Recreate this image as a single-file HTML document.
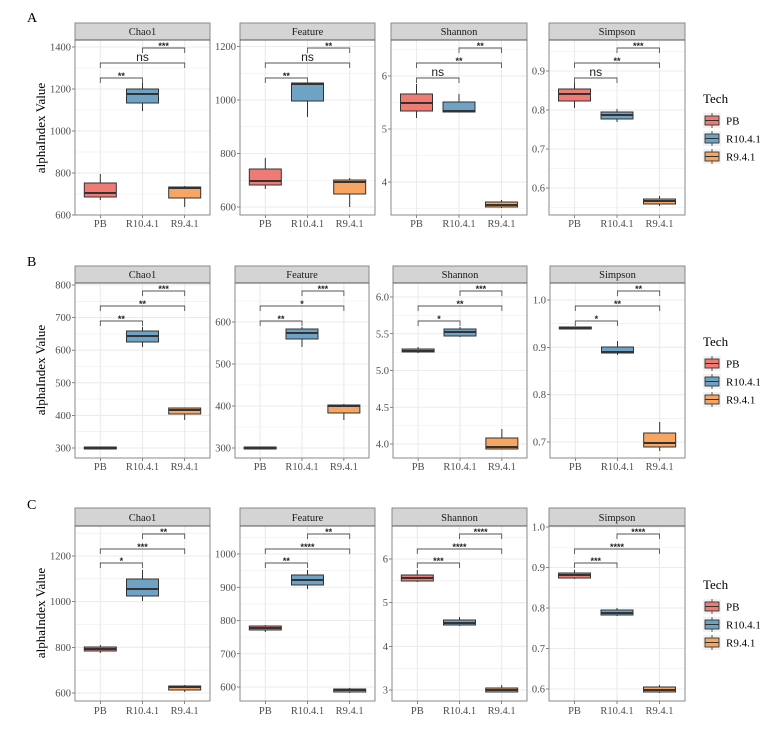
<!DOCTYPE html>
<html><head><meta charset="utf-8"><style>
html,body{margin:0;padding:0;background:#fff}
svg{display:block;font-family:"Liberation Serif",serif}
</style></head><body>
<svg id="s" width="779" height="732" viewBox="0 0 779 732" xmlns="http://www.w3.org/2000/svg"></svg>
<script>
const S=document.getElementById('s');let h='';
const col=['#f07a74','#6fa3c6','#f6a662'];
const cats=['PB','R10.4.1','R9.4.1'];
function lin(v0,y0,v1,y1){return v=>y0+(v-v0)*(y1-y0)/(v1-v0);}
// rows: strip top, strip bottom, plot bottom, xlabel baseline
const rows=[
 {st:23,sb:40,pb:215,xl:227,br:[78,63,48]},
 {st:266,sb:283,pb:458,xl:470,br:[321,306,291]},
 {st:508,sb:526,pb:701,xl:714,br:[563,549,534]}];
const facets=[
 // row A
 [{n:'Chao1',x0:75,x1:210,f:lin(600,215,1400,47),ticks:[600,800,1000,1200,1400],lab:v=>v,
   b:[[200,197,193,183,174],[111,103,94,89,83],[207,198,188,187,186]],s:['**','ns','***']},
  {n:'Feature',x0:240,x1:375,f:lin(600,207,1200,46.5),ticks:[600,800,1000,1200],lab:v=>v,
   b:[[189,185,181,169,158],[117,101,84,83,83],[207,194,182,180,178]],s:['**','ns','**']},
  {n:'Shannon',x0:391,x1:527,f:lin(4,182,6,76),ticks:[4,5,6],lab:v=>v,
   b:[[118,111,103,94,84],[112,112,111,102,94],[208,207,205,202,200]],s:['ns','**','**']},
  {n:'Simpson',x0:549,x1:685,f:lin(0.6,188,0.9,71),ticks:[0.6,0.7,0.8,0.9],lab:v=>v.toFixed(1),
   b:[[108,101,94,89,82],[122,119,115,112,109],[206,204,201,199,196]],s:['ns','**','***']}],
 [{n:'Chao1',x0:75,x1:210,f:lin(300,448,800,285),ticks:[300,400,500,600,700,800],lab:v=>v,
   b:[[449,449,448,447,447],[347,342,336,331,327],[420,414,410,408,408]],s:['**','**','***']},
  {n:'Feature',x0:235,x1:369,f:lin(300,448,600,322),ticks:[300,400,500,600],lab:v=>v,
   b:[[449,449,448,447,447],[347,339,333,329,327],[420,413,406,405,404]],s:['**','*','***']},
  {n:'Shannon',x0:393,x1:527,f:lin(4,444,6,297),ticks:[4,4.5,5,5.5,6],lab:v=>v.toFixed(1),
   b:[[353,352,351,349,347],[337,336,332,329,327],[449,449,447,438,429]],s:['*','**','***']},
  {n:'Simpson',x0:550,x1:685,f:lin(0.7,442,1.0,300),ticks:[0.7,0.8,0.9,1.0],lab:v=>v.toFixed(1),
   b:[[329,329,328,327,327],[355,353,352,347,341],[451,447,443,433,422]],s:['*','**','**']}],
 [{n:'Chao1',x0:75,x1:210,f:lin(600,693,1200,556),ticks:[600,800,1000,1200],lab:v=>v,
   b:[[653,651,649,647,645],[601,596,589,579,570],[692,690,687,686,685]],s:['*','***','**']},
  {n:'Feature',x0:240,x1:375,f:lin(600,687,1000,554),ticks:[600,700,800,900,1000],lab:v=>v,
   b:[[632,630,628,626,625],[589,585,580,575,570],[693,692,690,689,688]],s:['**','****','**']},
  {n:'Shannon',x0:392,x1:527,f:lin(3,690,6,559),ticks:[3,4,5,6],lab:v=>v,
   b:[[582,581,578,575,570],[626,625,623,620,617],[692,692,690,688,685]],s:['***','****','****']},
  {n:'Simpson',x0:549,x1:685,f:lin(0.6,689,1.0,527),ticks:[0.6,0.7,0.8,0.9,1.0],lab:v=>v.toFixed(1),
   b:[[579,578,575,573,570],[616,615,613,610,608],[693,692,690,687,685]],s:['***','****','****']}]];
const gc='#ebebeb';
facets.forEach((row,ri)=>{const R=rows[ri];
 row.forEach(F=>{
  const w=F.x1-F.x0, xs=[0.1875,0.5,0.8125].map(p=>F.x0+p*w), top=R.sb, bot=R.pb;
  // minor grid
  for(let i=0;i<F.ticks.length+1;i++){
    const step=F.ticks[1]-F.ticks[0]; const v=F.ticks[0]+(i-0.5)*step; const y=F.f(v);
    if(y>top&&y<bot) h+=`<line x1="${F.x0}" x2="${F.x1}" y1="${y}" y2="${y}" stroke="${gc}" stroke-width="0.6"/>`;
  }
  F.ticks.forEach(v=>{const y=F.f(v);
    h+=`<line x1="${F.x0}" x2="${F.x1}" y1="${y}" y2="${y}" stroke="${gc}" stroke-width="1.1"/>`;
    h+=`<line x1="${F.x0-3}" x2="${F.x0}" y1="${y}" y2="${y}" stroke="#333" stroke-width="0.6"/>`;
    h+=`<text x="${F.x0-4}" y="${y+3.5}" font-size="10.5" fill="#4d4d4d" text-anchor="end">${F.lab(v)}</text>`;});
  xs.forEach((x,i)=>{h+=`<line x1="${x}" x2="${x}" y1="${top}" y2="${bot}" stroke="${gc}" stroke-width="1.1"/>`;
    h+=`<line x1="${x}" x2="${x}" y1="${bot}" y2="${bot+3}" stroke="#333" stroke-width="0.6"/>`;
    h+=`<text x="${x}" y="${R.xl}" font-size="10.5" fill="#4d4d4d" text-anchor="middle">${cats[i]}</text>`;});
  // boxes
  const bw=32;
  F.b.forEach((b,i)=>{const x=xs[i];
    h+=`<line x1="${x}" x2="${x}" y1="${b[0]}" y2="${b[4]}" stroke="#333" stroke-width="1"/>`;
    const ht=Math.max(b[0+1]-b[3],1.5);
    h+=`<rect x="${x-bw/2}" y="${b[3]}" width="${bw}" height="${ht}" fill="${col[i]}" stroke="#333" stroke-width="1"/>`;
    h+=`<line x1="${x-bw/2}" x2="${x+bw/2}" y1="${b[2]}" y2="${b[2]}" stroke="#333" stroke-width="2"/>`;});
  // brackets
  const pairs=[[0,1],[0,2],[1,2]];
  pairs.forEach((p,k)=>{const y=R.br[k],a=xs[p[0]],c=xs[p[1]];
    h+=`<path d="M${a} ${y+5}V${y}H${c}V${y+5}" fill="none" stroke="#555" stroke-width="0.9"/>`;
    const s=F.s[k];
    if(s==='ns') h+=`<text x="${(a+c)/2}" y="${y-2}" font-family="Liberation Sans,sans-serif" font-size="12" fill="#222" text-anchor="middle">ns</text>`;
    else h+=`<text x="${(a+c)/2}" y="${y+1}" font-family="Liberation Sans,sans-serif" font-size="9" font-weight="bold" fill="#222" text-anchor="middle">${s}</text>`;
  });
  // panel border and strip
  h+=`<rect x="${F.x0}" y="${top}" width="${w}" height="${bot-top}" fill="none" stroke="#8a8a8a" stroke-width="1"/>`;
  h+=`<rect x="${F.x0}" y="${R.st}" width="${w}" height="${R.sb-R.st}" fill="#d4d4d4" stroke="#8a8a8a" stroke-width="1"/>`;
  h+=`<line x1="${F.x0}" x2="${F.x1}" y1="${R.sb}" y2="${R.sb}" stroke="#555" stroke-width="1"/>`;
  h+=`<text x="${F.x0+w/2}" y="${R.sb-5}" font-size="10.5" fill="#1a1a1a" text-anchor="middle">${F.n}</text>`;
 });
});
// left labels & letters
[[128,'A',18],[370,'B',262],[613,'C',505]].forEach(([cy,L,ly])=>{
 h+=`<text transform="translate(45 ${cy}) rotate(-90)" font-size="13" text-anchor="middle" fill="#000">alphaIndex Value</text>`;
 h+=`<text x="27" y="${ly+4}" font-size="14" fill="#000">${L}</text>`;
});
// legends
[[98],[341],[584]].forEach(([ty])=>{
 h+=`<text x="703" y="${ty+5}" font-size="13" fill="#000">Tech</text>`;
 cats.forEach((c,i)=>{const y=ty+15+i*18;
  h+=`<rect x="703" y="${y}" width="18" height="15" fill="#f2f2f2"/>`;
  h+=`<line x1="712" x2="712" y1="${y}" y2="${y+15}" stroke="#333" stroke-width="0.8"/>`;
  h+=`<rect x="705" y="${y+3}" width="14" height="9" fill="${col[i]}" stroke="#333" stroke-width="0.9"/>`;
  h+=`<line x1="705" x2="719" y1="${y+7.5}" y2="${y+7.5}" stroke="#333" stroke-width="1"/>`;
  h+=`<text x="726" y="${y+11.5}" font-size="11" fill="#000">${c}</text>`;});
});
S.innerHTML=h;
</script>
</body></html>
